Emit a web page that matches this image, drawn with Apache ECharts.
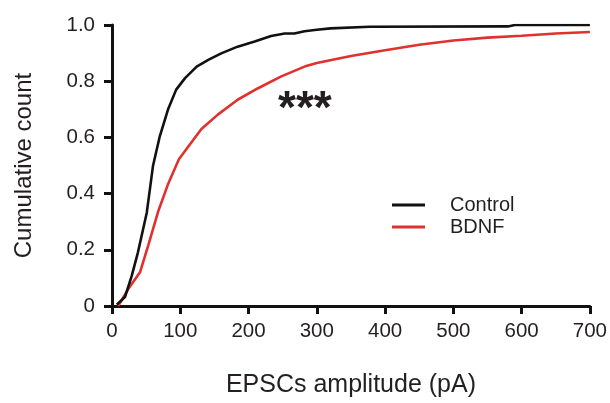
<!DOCTYPE html>
<html>
<head>
<meta charset="utf-8">
<script src="https://cdn.jsdelivr.net/npm/echarts@6/dist/echarts.min.js"></script>
<style>html,body{margin:0;padding:0;background:#fff}#c{width:610px;height:403px}</style>
</head>
<body>
<div id="c"></div>
<script>
// Data
var controlX = [7, 19, 29, 38, 51, 60, 70, 82, 94, 107, 124, 141, 160, 184, 209, 233, 253, 267, 282, 300, 320, 377, 580, 590, 700];
var controlY = [0.005, 0.032, 0.108, 0.191, 0.333, 0.498, 0.604, 0.699, 0.770, 0.811, 0.852, 0.876, 0.899, 0.923, 0.941, 0.961, 0.970, 0.970, 0.978, 0.983, 0.988, 0.994, 0.995, 1.0, 1.0];
var bdnfX = [9, 24, 41, 53, 68, 82, 98, 114, 131, 155, 184, 214, 248, 282, 300, 350, 400, 450, 500, 550, 600, 650, 700];
var bdnfY = [0, 0.061, 0.120, 0.215, 0.339, 0.433, 0.522, 0.575, 0.630, 0.681, 0.734, 0.775, 0.817, 0.852, 0.865, 0.89, 0.91, 0.93, 0.945, 0.955, 0.962, 0.97, 0.975];
var yTickLabels = {0: '0', 0.2: '0.2', 0.4: '0.4', 0.6: '0.6', 0.8: '0.8', 1: '1.0'};
var seriesNames = ['Control', 'BDNF'];
var xTitle = 'EPSCs amplitude (pA)';
var yTitle = 'Cumulative count';
var annotation = '***';

function pairs(xs, ys) { return xs.map(function (x, i) { return [x, ys[i]]; }); }

var FONT = 'Liberation Sans, Arial, Helvetica, sans-serif';
var TXT = '#231f20';
var chart = echarts.init(document.getElementById('c'), null, {renderer: 'canvas'});
chart.setOption({
  animation: false,
  backgroundColor: '#ffffff',
  grid: {left: 112, right: 19, top: 25, bottom: 95, containLabel: false},
  xAxis: {
    type: 'value', min: 0, max: 700, interval: 100,
    name: xTitle, nameLocation: 'middle', nameGap: 67,
    nameTextStyle: {fontFamily: FONT, fontSize: 25, color: TXT},
    axisLine: {show: true, onZero: false, lineStyle: {color: '#111', width: 3}},
    axisTick: {show: true, inside: false, length: 8, lineStyle: {color: '#111', width: 3}},
    axisLabel: {fontFamily: FONT, fontSize: 20.5, color: TXT, margin: 15},
    splitLine: {show: false}
  },
  yAxis: {
    type: 'value', min: 0, max: 1, interval: 0.2,
    name: yTitle, nameLocation: 'middle', nameGap: 76, nameRotate: 90,
    nameTextStyle: {fontFamily: FONT, fontSize: 24, color: TXT},
    axisLine: {show: true, onZero: false, lineStyle: {color: '#111', width: 3}},
    axisTick: {show: true, inside: false, length: 8, lineStyle: {color: '#111', width: 3}},
    axisLabel: {fontFamily: FONT, fontSize: 20.5, color: TXT, margin: 17,
      formatter: function (v) { var k = Math.round(v * 10) / 10; return yTickLabels[k] !== undefined ? yTickLabels[k] : ''; }},
    splitLine: {show: false}
  },
  legend: {
    orient: 'vertical', left: 392, top: 195, padding: 0,
    icon: 'rect', itemWidth: 33, itemHeight: 3, itemGap: 2,
    textStyle: {fontFamily: FONT, fontSize: 20, color: TXT, padding: [0, 0, 0, 20]},
    data: seriesNames
  },
  series: [
    {name: seriesNames[0], type: 'line', data: pairs(controlX, controlY), showSymbol: false, symbol: 'none',
      lineStyle: {color: '#111111', width: 2.6}, itemStyle: {color: '#111111'}, z: 3},
    {name: seriesNames[1], type: 'line', data: pairs(bdnfX, bdnfY), showSymbol: false, symbol: 'none',
      lineStyle: {color: '#e0312f', width: 2.6}, itemStyle: {color: '#e0312f'}, z: 2}
  ],
  graphic: [
    {type: 'text', left: 278, top: 87, style: {text: annotation, font: 'bold 46px ' + FONT, fill: TXT}}
  ]
});
</script>
</body>
</html>
